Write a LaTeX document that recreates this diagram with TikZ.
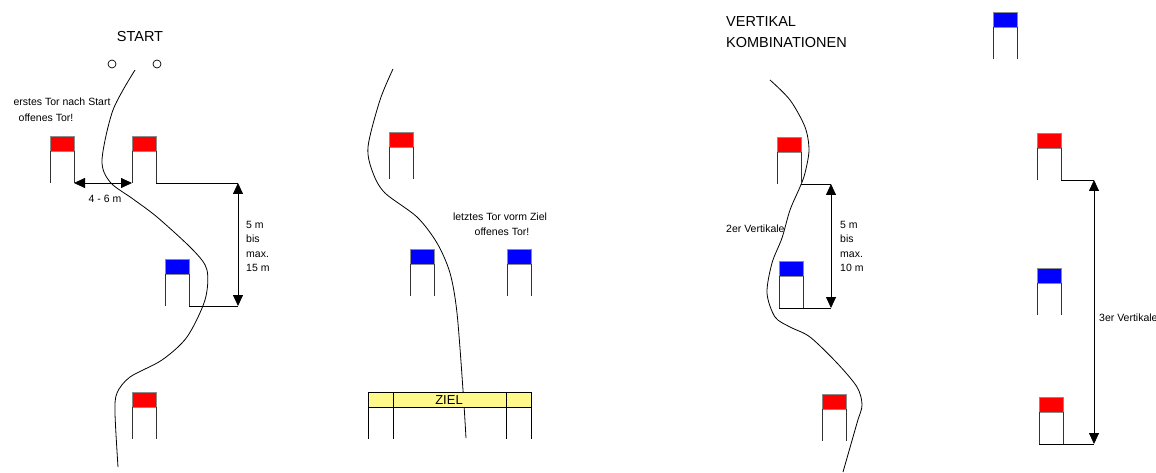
\documentclass[tikz,border=0pt]{standalone}
\usepackage{fontspec}
\setmainfont{Liberation Sans}
\usetikzlibrary{arrows.meta}
\def\tor[#1]#2(#3,#4){%
\draw[fill=#1,draw=black!45,line width=0.6pt] (#3,#4) rectangle (#3+24,#4+15);
\draw[black!80,line width=0.8pt] (#3,#4+15) -- (#3,#4+47);
\draw[black!80,line width=0.8pt] (#3+24,#4+15) -- (#3+24,#4+47);
\coordinate (#2-l) at (#3,#4+47);
\coordinate (#2-r) at (#3+24,#4+47);}
\tikzset{
  mass/.style={{Triangle[length=11pt,width=10pt]}-{Triangle[length=11pt,width=10pt]},line width=0.8pt},
  fahrt/.style={line width=0.8pt},
  klein/.style={font=\fontsize{10.5}{14.3}\selectfont,inner sep=0pt},
  gross/.style={font=\fontsize{14.5}{21}\selectfont,inner sep=0pt}
}

\begin{document}
\begin{tikzpicture}[x=1pt,y=-1pt]
				%%%%% START %%%%%
				\useasboundingbox (0,0) rectangle (1156,473);

				% linker Lauf
				\node[gross,anchor=base] (start) at (140,42) {START};
				\draw[line width=0.7pt] (112,64) circle (4);
				\draw[line width=0.7pt] (157,64) circle (4);
				\node[klein,anchor=base] (erstes) at (62,106) {erstes Tor nach Start};
				\node[klein,anchor=base] (offen1) at (46,122) {offenes Tor!};

				\draw[fahrt] plot[smooth] coordinates {(135,70) (113,110) (102,160) (110,182) (133,199) (157,217) (193,250) (207,270) (205,300) (187,337) (162,360) (130,377) (117,393) (115,413) (118,467)};

				\tor[red]{g1}(50,136)
				\tor[red]{g2}(132,136)
				\tor[blue]{g3}(165,259)
				\tor[red]{g4}(132,392)

				\draw[mass] (g1-r) -- (g2-l);
				\node[klein,anchor=base] (abst) at (105,203) {4 - 6 m};
				\coordinate (m1o) at (238,183);
				\coordinate (m1u) at (238,306);
				\draw[line width=0.8pt] (g2-r) -- (m1o);
				\draw[line width=0.8pt] (g3-r) -- (m1u);
				\draw[mass] (m1o) -- (m1u);
				\node[klein,anchor=north west,align=left] (m1txt) at (246,221) {5 m\\bis\\max.\\15 m};

				% mittlerer Lauf
				\draw[fahrt] plot[smooth] coordinates {(393,69) (380,100) (368,147) (373,173) (385,193) (417,217) (437,243) (450,273) (457,313) (463,390) (466,438)};

				\tor[red]{g5}(389,132)
				\tor[blue]{g6}(410,249)
				\tor[blue]{g7}(507,249)
				\node[klein,anchor=base] (letztes) at (500,220) {letztes Tor vorm Ziel};
				\node[klein,anchor=base] (offen2) at (502,235) {offenes Tor!};

				\draw[fill=yellow!45,line width=0.8pt] (368,392) rectangle (531,407);
				\draw[line width=0.8pt] (393,392) -- (393,439);
				\draw[line width=0.8pt] (506,392) -- (506,439);
				\draw[line width=0.8pt] (368,407) -- (368,439);
				\draw[line width=0.8pt] (531,407) -- (531,439);
				\draw[line width=0.8pt] (368,407) -- (531,407);
				\node[font=\fontsize{13}{15}\selectfont,inner sep=0pt,anchor=base] (ziel) at (449,404.5) {ZIEL};

				% Vertikal Kombinationen
				\node[gross,anchor=base west] (vert) at (726,27) {VERTIKAL};
				\node[gross,anchor=base west] (komb) at (726,48) {KOMBINATIONEN};

				\draw[fahrt] plot[smooth] coordinates {(770,80) (790,100) (805,127) (809,150) (805,173) (800,187) (790,210) (782,238) (772,263) (767,293) (775,317) (790,327) (810,337) (837,363) (857,387) (862,405) (857,423) (843,472)};

				\tor[red]{g8}(777,137)
				\tor[blue]{g9}(779,261)
				\tor[red]{g10}(822,394)
				\node[klein,anchor=base west] (zweier) at (726,233) {2er Vertikale};
				\coordinate (m2o) at (831,184);
				\coordinate (m2u) at (831,308);
				\draw[line width=0.8pt] (g8-r) -- (m2o);
				\draw[line width=0.8pt] (g9-l) -- (m2u);
				\draw[mass] (m2o) -- (m2u);
				\node[klein,anchor=north west,align=left] (m2txt) at (840,221) {5 m\\bis\\max.\\10 m};

				\tor[blue]{g11}(993,12)
				\tor[red]{g12}(1037,133)
				\tor[blue]{g13}(1037,268)
				\tor[red]{g14}(1039,397)
				\coordinate (m3o) at (1094,180);
				\coordinate (m3u) at (1094,444);
				\draw[line width=0.8pt] (g12-r) -- (m3o);
				\draw[line width=0.8pt] (g14-l) -- (m3u);
				\draw[mass] (m3o) -- (m3u);
				\node[klein,anchor=base west] (dreier) at (1099,321) {3er Vertikale};
				%%%%% START %%%%%
\end{tikzpicture}
\end{document}
